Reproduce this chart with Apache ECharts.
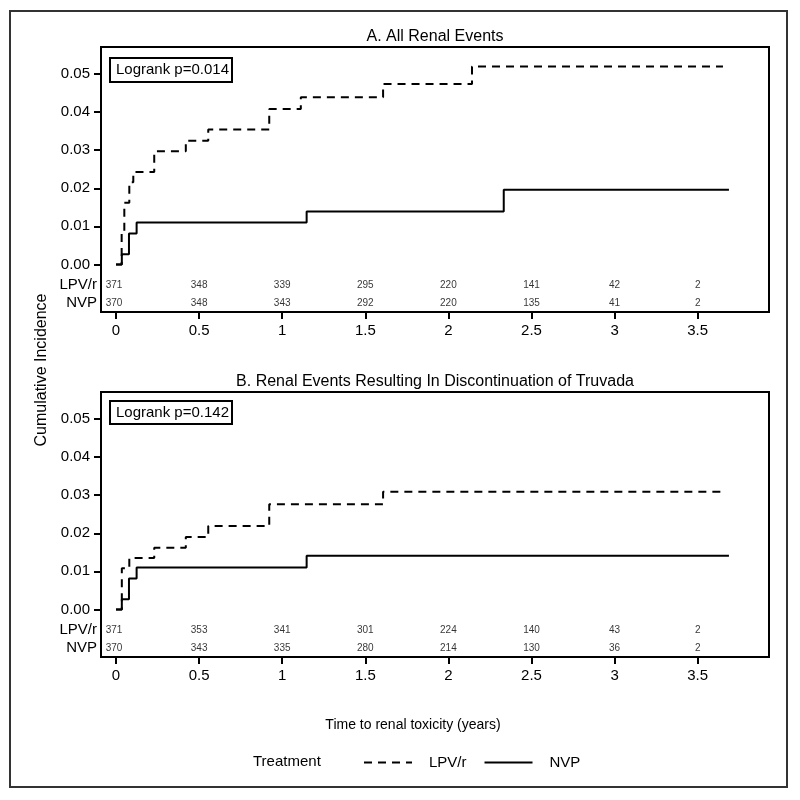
<!DOCTYPE html>
<html>
<head>
<meta charset="utf-8">
<script src="https://cdn.jsdelivr.net/npm/echarts@6/dist/echarts.min.js"></script>
<style>html,body{margin:0;padding:0;background:#fff}#c{width:800px;height:800px}</style>
</head>
<body>
<div id="c"></div>
<script>
// ---- data ----
var riskTimes = [0, 0.5, 1, 1.5, 2, 2.5, 3, 3.5];
var lpvRiskA = [371, 348, 339, 295, 220, 141, 42, 2];
var nvpRiskA = [370, 348, 343, 292, 220, 135, 41, 2];
var lpvRiskB = [371, 353, 341, 301, 224, 140, 43, 2];
var nvpRiskB = [370, 343, 335, 280, 214, 130, 36, 2];

var lpvA_t = [0, 0.034, 0.05, 0.08, 0.104, 0.23, 0.42, 0.555, 0.922, 1.112, 1.607, 2.142, 3.652];
var lpvA_y = [0, 0.0081, 0.0162, 0.0216, 0.0243, 0.0297, 0.0325, 0.0354, 0.0408, 0.0439, 0.0474, 0.0520, 0.0520];
var nvpA_t = [0, 0.035, 0.078, 0.124, 1.147, 2.333, 3.688];
var nvpA_y = [0, 0.0027, 0.0081, 0.0110, 0.0139, 0.0196, 0.0196];

var lpvB_t = [0, 0.035, 0.08, 0.23, 0.42, 0.555, 0.922, 1.607, 3.64];
var lpvB_y = [0, 0.0108, 0.0135, 0.0162, 0.0190, 0.0219, 0.0276, 0.0309, 0.0309];
var nvpB_t = [0, 0.035, 0.078, 0.124, 1.147, 3.688];
var nvpB_y = [0, 0.0027, 0.0081, 0.0110, 0.0141, 0.0141];

var xTicks = [0, 0.5, 1, 1.5, 2, 2.5, 3, 3.5];
var yTicks = [0, 0.01, 0.02, 0.03, 0.04, 0.05];
var titleA = 'A. All Renal Events';
var titleB = 'B. Renal Events Resulting In Discontinuation of Truvada';
var logrankA = 'Logrank p=0.014';
var logrankB = 'Logrank p=0.142';
var groupNames = ['LPV/r', 'NVP'];

// ---- layout / style ----
var FONT = 'Liberation Sans, Arial, sans-serif';
var NARROW = 'Liberation Sans Narrow, Liberation Sans, Arial, sans-serif';
var ROW_LPV = -0.0054, ROW_NVP = -0.0102;
var YMIN = -0.0125, YMAX = 0.0571, XMIN = -0.0903, XMAX = 3.929;

function pairs(t, y) { return t.map(function (v, i) { return [v, y[i]]; }); }
function riskPoints(vals, rowY) {
  return vals.map(function (v, i) {
    var d = { value: [riskTimes[i], rowY, v] };
    if (i === 0) d.label = { offset: [-2, 0] };
    return d;
  });
}

function xAxis(gi) {
  return {
    type: 'value', gridIndex: gi, min: XMIN, max: XMAX, position: 'bottom',
    axisLine: { show: false, onZero: false },
    axisTick: { show: true, length: 7, customValues: xTicks, lineStyle: { color: '#000', width: 2 } },
    axisLabel: { customValues: xTicks, color: '#000', fontSize: 15, fontFamily: FONT, margin: 11,
      formatter: function (v) { return String(v); } },
    splitLine: { show: false }
  };
}
function yAxisMain(gi) {
  return {
    type: 'value', gridIndex: gi, min: YMIN, max: YMAX, position: 'left',
    axisLine: { show: false, onZero: false },
    axisTick: { show: true, length: 7, customValues: yTicks, lineStyle: { color: '#000', width: 2 } },
    axisLabel: { customValues: yTicks, color: '#000', fontSize: 15, fontFamily: FONT, margin: 11,
      formatter: function (v) { return v.toFixed(2); } },
    splitLine: { show: false }
  };
}
function yAxisRows(gi) {
  return {
    type: 'value', gridIndex: gi, min: YMIN, max: YMAX, position: 'left',
    axisLine: { show: false, onZero: false }, axisTick: { show: false }, splitLine: { show: false },
    axisLabel: { customValues: [ROW_NVP, ROW_LPV], color: '#000', fontSize: 15, fontFamily: FONT, margin: 4,
      formatter: function (v) { return v === ROW_LPV ? groupNames[0] : groupNames[1]; } }
  };
}
function curve(name, data, gi, dashed) {
  return {
    type: 'line', name: name, xAxisIndex: gi, yAxisIndex: gi * 2, data: data, step: 'end',
    symbol: 'none', silent: true, animation: false,
    lineStyle: { color: '#000', width: 2, type: dashed ? [8, 6] : 'solid' },
    itemStyle: { color: '#000' }
  };
}
function risk(vals, rowY, gi) {
  return {
    type: 'scatter', xAxisIndex: gi, yAxisIndex: gi * 2, data: riskPoints(vals, rowY),
    symbolSize: 1, itemStyle: { color: 'rgba(0,0,0,0)' }, silent: true, animation: false,
    label: { show: true, position: 'inside', color: '#000', fontSize: 10, fontFamily: NARROW,
      formatter: function (p) { return String(p.value[2]); } }
  };
}

var chart = echarts.init(document.getElementById('c'));
chart.setOption({
  backgroundColor: '#fff',
  animation: false,
  grid: [
    { left: 101, top: 47, width: 668, height: 265, show: true, borderColor: '#000', borderWidth: 2, backgroundColor: 'transparent' },
    { left: 101, top: 392, width: 668, height: 265, show: true, borderColor: '#000', borderWidth: 2, backgroundColor: 'transparent' }
  ],
  xAxis: [xAxis(0), xAxis(1)],
  yAxis: [yAxisMain(0), yAxisRows(0), yAxisMain(1), yAxisRows(1)],
  legend: {
    data: groupNames, left: 358, top: 750, itemWidth: 48, itemHeight: 14, itemGap: 17,
    selectedMode: false,
    itemStyle: { opacity: 0 },
    textStyle: { color: '#000', fontSize: 15, fontFamily: FONT, padding: [0, 0, 0, 12] }
  },
  series: [
    curve(groupNames[0], pairs(lpvA_t, lpvA_y), 0, true),
    curve(groupNames[1], pairs(nvpA_t, nvpA_y), 0, false),
    curve(groupNames[0], pairs(lpvB_t, lpvB_y), 1, true),
    curve(groupNames[1], pairs(nvpB_t, nvpB_y), 1, false),
    risk(lpvRiskA, ROW_LPV, 0), risk(nvpRiskA, ROW_NVP, 0),
    risk(lpvRiskB, ROW_LPV, 1), risk(nvpRiskB, ROW_NVP, 1)
  ],
  graphic: [
    { type: 'rect', shape: { x: 10, y: 11, width: 777, height: 776 }, style: { fill: 'none', stroke: '#333', lineWidth: 2 }, silent: true },
    { type: 'text', x: 435, y: 37, style: { text: titleA, fill: '#000', font: '16px ' + FONT, textAlign: 'center', textVerticalAlign: 'middle' } },
    { type: 'text', x: 435, y: 382, style: { text: titleB, fill: '#000', font: '16px ' + FONT, textAlign: 'center', textVerticalAlign: 'middle' } },
    { type: 'rect', shape: { x: 110, y: 58, width: 122, height: 24 }, style: { fill: '#fff', stroke: '#000', lineWidth: 2 } },
    { type: 'text', x: 116, y: 70, style: { text: logrankA, fill: '#000', font: '15px ' + FONT, textVerticalAlign: 'middle' } },
    { type: 'rect', shape: { x: 110, y: 401, width: 122, height: 23 }, style: { fill: '#fff', stroke: '#000', lineWidth: 2 } },
    { type: 'text', x: 116, y: 412.5, style: { text: logrankB, fill: '#000', font: '15px ' + FONT, textVerticalAlign: 'middle' } },
    { type: 'text', x: 42, y: 370, rotation: Math.PI / 2, style: { text: 'Cumulative Incidence', fill: '#000', font: '16px ' + FONT, textAlign: 'center', textVerticalAlign: 'middle' } },
    { type: 'text', x: 413, y: 725, style: { text: 'Time to renal toxicity (years)', fill: '#000', font: '14px ' + FONT, textAlign: 'center', textVerticalAlign: 'middle' } },
    { type: 'text', x: 253, y: 762, style: { text: 'Treatment', fill: '#000', font: '15px ' + FONT, textVerticalAlign: 'middle' } }
  ]
});
</script>
</body>
</html>
